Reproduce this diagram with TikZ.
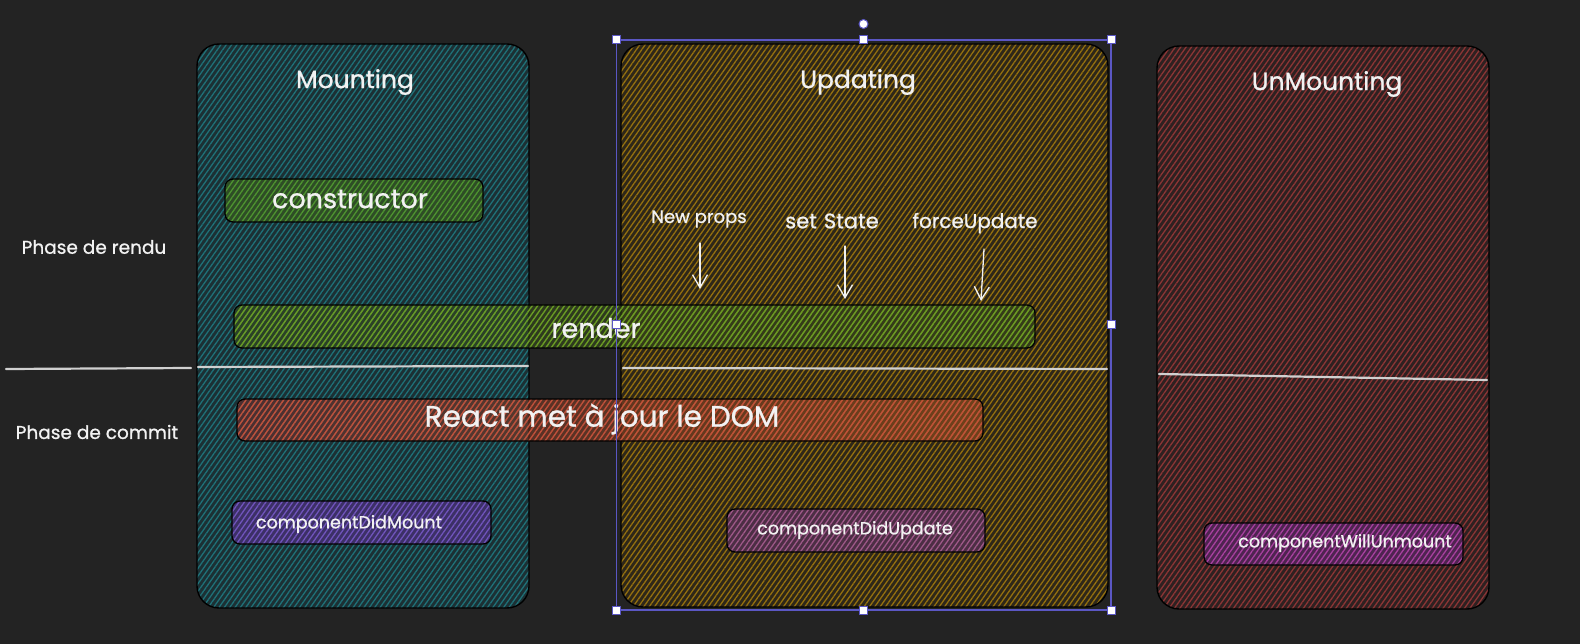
\documentclass[tikz,border=0pt]{standalone}
\usepackage{fontspec}
\setmainfont{Poppins}
\newfontfamily\hand{Poppins}[FakeBold=0.9]
\usetikzlibrary{patterns.meta,arrows.meta}
\definecolor{bg}{HTML}{232323}
\definecolor{txt}{HTML}{F2F2F2}
\definecolor{sepc}{HTML}{D0D0D0}
\definecolor{selc}{HTML}{5B57C4}
\definecolor{mountL}{HTML}{1F7178}
\definecolor{mountB}{HTML}{1C3034}
\definecolor{updL}{HTML}{94700F}
\definecolor{updB}{HTML}{2E2719}
\definecolor{unmL}{HTML}{8C3535}
\definecolor{unmB}{HTML}{2E2121}
\definecolor{consL}{HTML}{4E9430}
\definecolor{consB}{HTML}{2E4D26}
\definecolor{rendL}{HTML}{6A9C24}
\definecolor{rendB}{HTML}{3A521A}
\definecolor{reactL}{HTML}{C0503A}
\definecolor{reactA}{HTML}{7A2E2E}
\definecolor{reactC}{HTML}{B05A1E}
\definecolor{cdmL}{HTML}{7054BC}
\definecolor{cdmB}{HTML}{3C3066}
\definecolor{cduL}{HTML}{9E5888}
\definecolor{cduB}{HTML}{4C2E44}
\definecolor{cwuL}{HTML}{A8409F}
\definecolor{cwuB}{HTML}{4E2450}
\tikzset{
  panel/.style={draw=black, line width=1.4pt, rounded corners=22pt, inner sep=0pt},
  pill/.style={draw=black, line width=1.3pt, rounded corners=8pt, inner sep=0pt},
  hatch/.style 2 args={preaction={fill=#2}, pattern={Lines[angle=55,distance=4.4pt,line width=1.3pt]}, pattern color=#1},
  title/.style={text=txt, font=\hand\fontsize{25}{28}\selectfont, inner sep=0pt},
  big/.style={text=txt, font=\hand\fontsize{27}{30}\selectfont, inner sep=0pt},
  small/.style={text=txt, font=\hand\fontsize{17.5}{20}\selectfont, inner sep=0pt},
  side/.style={text=txt, font=\hand\fontsize{18.5}{20}\selectfont, inner sep=0pt},
  trig/.style={text=txt, font=\hand\fontsize{18}{20}\selectfont, inner sep=0pt},
  sep/.style={draw=sepc, line width=2.2pt, line cap=round},
  arr/.style={draw=txt, line width=1.3pt, line cap=round, -{Straight Barb[length=13pt,width=15pt,line width=1.3pt]}},
  handle/.style={draw=selc, fill=white, line width=1pt, minimum size=8pt, inner sep=0pt},
}
\begin{document}
\begin{tikzpicture}[x=1pt,y=-1pt]
\fill[bg] (0,0) rectangle (1580,644);
\useasboundingbox (0,0) rectangle (1580,644);

% panels
\node[panel, hatch={mountL}{mountB}, minimum width=332pt, minimum height=564pt] (mount) at (363,326) {};
\node[panel, hatch={updL}{updB}, minimum width=487pt, minimum height=563pt] (upd) at (864.5,325.5) {};
\node[panel, hatch={unmL}{unmB}, minimum width=332pt, minimum height=563pt] (unm) at (1323,327.5) {};

\node[title] (tMount) at (355,82) {Mounting};
\node[title] (tUpd) at (858,82) {Updating};
\node[title] (tUnm) at (1327,84) {UnMounting};

% separators
\coordinate (s0a) at (6,369); \coordinate (s0b) at (191,368);
\coordinate (s1a) at (198,367); \coordinate (s1b) at (528,366);
\coordinate (s2a) at (623,368); \coordinate (s2b) at (1107,369);
\coordinate (s3a) at (1159,374); \coordinate (s3b) at (1487,380);
\draw[sep] (s0a) -- (s0b);
\draw[sep] (s1a) -- (s1b);
\draw[sep] (s2a) -- (s2b);
\draw[sep] (s3a) -- (s3b);

\node[side] (pRendu) at (94,247) {Phase de rendu};
\node[side] (pCommit) at (97,432) {Phase de commit};

% constructor
\node[pill, hatch={consL}{consB}, minimum width=258pt, minimum height=43pt] (cons) at (354,200.5) {};
\node[big] (consT) at (350,199) {constructor};

% render (translucent)
\node[pill, preaction={fill=rendB, fill opacity=0.5}, pattern={Lines[angle=55,distance=4.4pt,line width=1.4pt]}, pattern color=rendL, minimum width=801pt, minimum height=43pt] (rend) at (634.5,326.5) {};
\node[big] (rendT) at (596,328) {render};

% React
\node[pill, preaction={left color=reactA, right color=reactC, opacity=0.5}, pattern={Lines[angle=55,distance=4.4pt,line width=1.4pt]}, pattern color=reactL, minimum width=746pt, minimum height=42pt] (react) at (610,420) {};
\node[big, font=\hand\fontsize{29.5}{32}\selectfont] (reactT) at (602,419) {React met à jour le DOM};

% lifecycle methods
\node[pill, hatch={cdmL}{cdmB}, minimum width=259pt, minimum height=43pt] (cdm) at (361.5,522.5) {};
\node[small] (cdmT) at (349,524) {componentDidMount};
\node[pill, hatch={cduL}{cduB}, minimum width=258pt, minimum height=43pt] (cdu) at (856,530.5) {};
\node[small] (cduT) at (855,530) {componentDidUpdate};
\node[pill, hatch={cwuL}{cwuB}, minimum width=259pt, minimum height=42pt] (cwu) at (1333.5,544) {};
\node[small] (cwuT) at (1345,543) {componentWillUnmount};

% triggers
\node[trig] (np) at (699,219) {New props};
\node[trig, font=\hand\fontsize{21}{23}\selectfont] (ss) at (832,221) {set\hspace{7pt}State};
\node[trig, font=\hand\fontsize{20}{22}\selectfont] (fu) at (975,223) {forceUpdate};
\coordinate (a1s) at (700,243); \coordinate (a1e) at (700,289);
\coordinate (a2s) at (845,246); \coordinate (a2e) at (845,299);
\coordinate (a3s) at (984,249); \coordinate (a3e) at (981,301);
\draw[arr] (a1s) -- (a1e);
\draw[arr] (a2s) -- (a2e);
\draw[arr] (a3s) -- (a3e);

% selection frame
\coordinate (selA) at (616.5,40);
\coordinate (selB) at (1111,610);
\draw[selc, line width=1.2pt] (selA) rectangle (selB);
\coordinate (rot) at (863.5,24);
\node[handle, circle, minimum size=9pt] (hrot) at (rot) {};
\node[handle] (h1) at (616.5,40) {};
\node[handle] (h2) at (863.5,40) {};
\node[handle] (h3) at (1111,40) {};
\node[handle] (h4) at (616.5,325) {};
\node[handle] (h5) at (1111,325) {};
\node[handle] (h6) at (616.5,610) {};
\node[handle] (h7) at (863.5,610) {};
\node[handle] (h8) at (1111,610) {};
\end{tikzpicture}
\end{document}
